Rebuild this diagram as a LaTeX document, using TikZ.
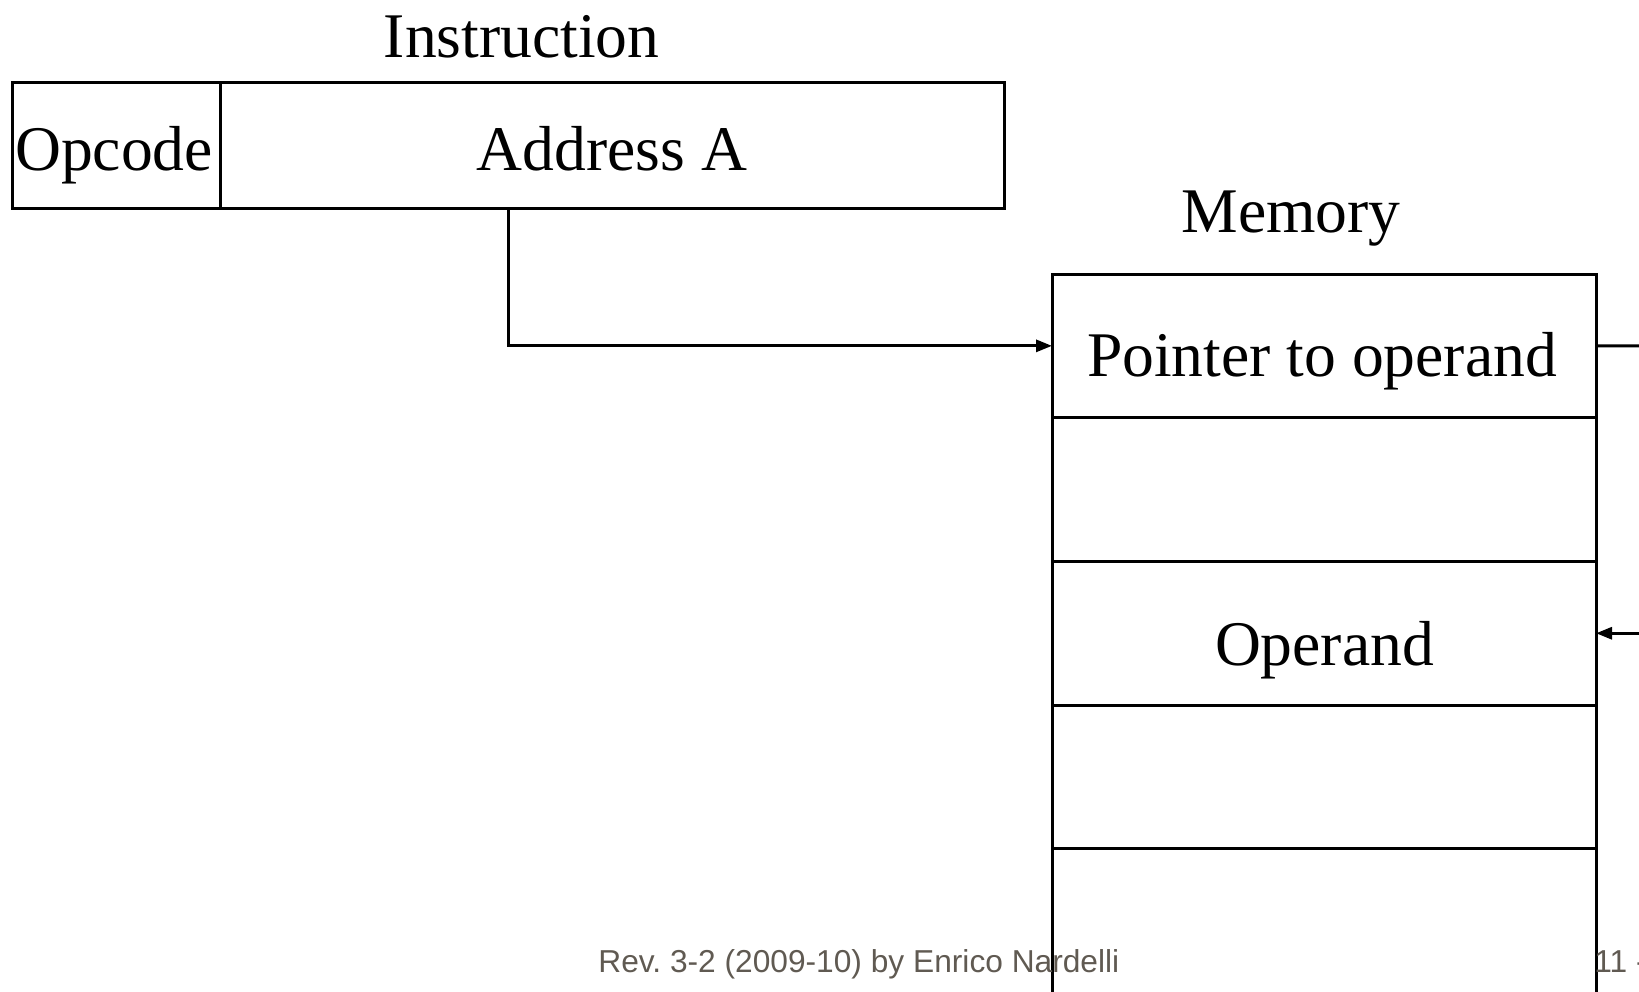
\documentclass[tikz,border=0pt]{standalone}
\usepackage{fontspec}
\setmainfont{Liberation Serif}
\newfontfamily\footfont{Liberation Sans}
\usetikzlibrary{arrows.meta}
\definecolor{footgray}{RGB}{96,90,82}
\begin{document}
\begin{tikzpicture}[x=0.5pt,y=-0.5pt,
  cell/.style={draw, line width=1.5pt, inner sep=0pt, outer sep=0pt, anchor=north west},
  lbl/.style={inner sep=0pt, anchor=base, font=\fontsize{31.8pt}{36pt}\selectfont},
  foot/.style={inner sep=0pt, anchor=base west, text=footgray, font=\footfont\fontsize{15.85pt}{18pt}\selectfont\frenchspacing},
  link/.style={line width=1.5pt},
  arr/.style={link, -{Triangle[length=8pt,width=6pt]}}]
  % page frame
  \clip (0,0) rectangle (1639,991);
  \useasboundingbox (0,0) rectangle (1639,991);

  % instruction word
  \node[cell, minimum width=104pt, minimum height=63pt] (opc) at (12,82) {};
  \node[cell, minimum width=392pt, minimum height=63pt] (addr) at (220,82) {};
  \node[lbl] (instr) at (521.6,57.5) {Instruction};
  \node[lbl] (opcT) at (114,170) {Opcode};
  \node[lbl] (addrT) at (612,170) {Address A};

  % memory cells
  \node[lbl] (memT) at (1291,232) {Memory};
  \node[cell, minimum width=272pt, minimum height=71.85pt] (ptr) at (1052,274) {};
  \node[cell, minimum width=272pt, minimum height=71.85pt] (m2) at (1052,417.7) {};
  \node[cell, minimum width=272pt, minimum height=71.85pt] (opd) at (1052,561.4) {};
  \node[cell, minimum width=272pt, minimum height=71.85pt] (m4) at (1052,705.1) {};
  \node[cell, minimum width=272pt, minimum height=90pt] (m5) at (1052,848.8) {};
  \node[lbl] (ptrT) at (1322,376) {Pointer to operand};
  \node[lbl] (opdT) at (1324.5,665) {Operand};

  % address field refers to the pointer cell
  \coordinate (tap) at (508,208);
  \draw[arr] (tap) |- (ptr.west);

  % pointer cell refers to the operand cell
  \coordinate (pout) at (1680,345.9);
  \coordinate (pin) at (1680,633.25);
  \draw[link] (ptr.east) -- (pout);
  \draw[arr] (pin) -- (opd.east);

  % footer
  \node[foot] (rev) at (598,972) {Rev. 3-2 (2009-10) by Enrico Nardelli};
  \node[foot] (page) at (1594,972) {11 -};
\end{tikzpicture}
\end{document}
